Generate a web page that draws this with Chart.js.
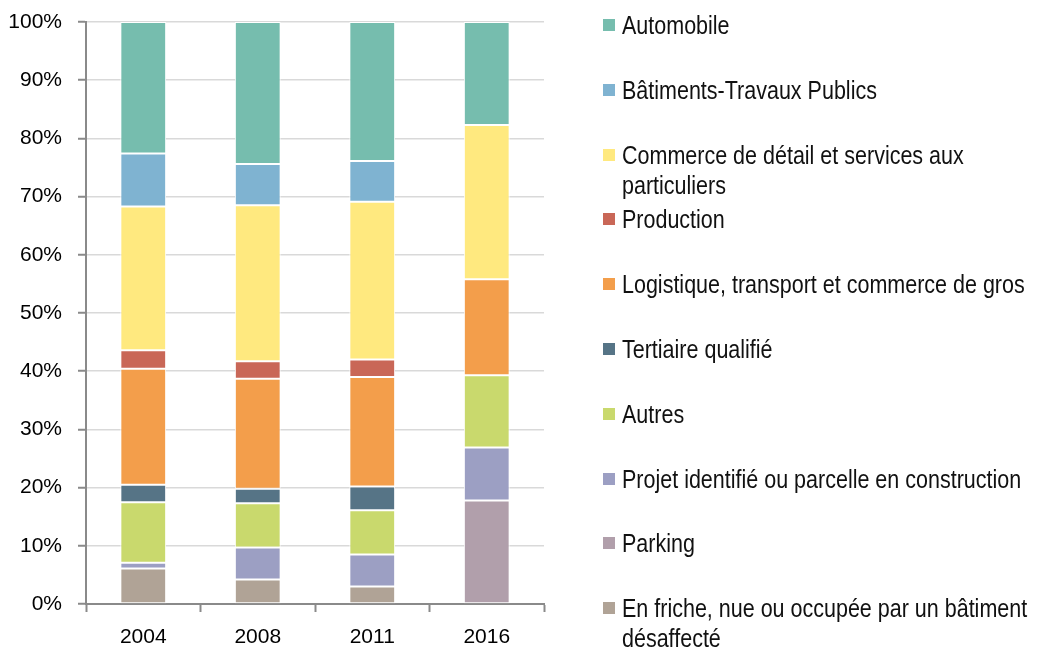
<!DOCTYPE html>
<html>
<head>
<meta charset="utf-8">
<script src="https://cdn.jsdelivr.net/npm/chart.js@4/dist/chart.umd.min.js"></script>
<style>
  html, body { margin: 0; padding: 0; background: #fff; }
  #wrap { position: relative; width: 1038px; height: 648px; }
  #c { position: absolute; left: 0; top: 0; }
  #legend { position: absolute; left: 0; top: 0; width: 1038px; height: 648px; pointer-events: none; }
  .item { position: absolute; left: 603px; width: 436px; }
  .sw { position: absolute; left: 0; top: 9px; width: 12px; height: 12px; }
  .tx { position: absolute; left: 19px; top: 0; width: 484px; line-height: 30px; color: #111;
        white-space: normal; font-family: "Liberation Sans", Arial, sans-serif; font-size: 25px;
        transform: scaleX(0.86); transform-origin: 0 0; }
</style>
</head>
<body>
<div id="wrap">
  <canvas id="c" width="1038" height="648"></canvas>
  <div id="legend"></div>
</div>
<script>
// ---- Data ----
const categories = ['2004', '2008', '2011', '2016'];

const seriesNames = [
  'En friche, nue ou occupée par un bâtiment désaffecté',
  'Parking',
  'Projet identifié ou parcelle en construction',
  'Autres',
  'Tertiaire qualifié',
  'Logistique, transport et commerce de gros',
  'Production',
  'Commerce de détail et services aux particuliers',
  'Bâtiments-Travaux Publics',
  'Automobile'
];

const enFriche   = [6.1, 4.2, 3.0, 0];
const parking    = [0, 0, 0, 17.8];
const projet     = [1.0, 5.5, 5.5, 9.1];
const autres     = [10.4, 7.6, 7.6, 12.4];
const tertiaire  = [3.0, 2.5, 4.1, 0];
const logistique = [19.9, 18.9, 18.8, 16.5];
const production = [3.2, 3.0, 3.0, 0];
const commerce   = [24.7, 26.8, 27.1, 26.5];
const btp        = [9.1, 7.1, 7.0, 0];
const automobile = [22.6, 24.4, 23.9, 17.7];

const yTicks = [0, 10, 20, 30, 40, 50, 60, 70, 80, 90, 100];

const seriesValues = [enFriche, parking, projet, autres, tertiaire, logistique, production, commerce, btp, automobile];
const seriesColors = ['#B0A396', '#B19FAB', '#9C9FC3', '#C9D96D', '#567486', '#F39E4B', '#C96757', '#FFE97F', '#7FB3D1', '#76BDAE'];

const fontFamily = '"Liberation Sans", Arial, sans-serif';
const fontSize = 21;

// ---- Chart ----
const datasets = seriesNames.map((name, i) => ({
  label: name,
  data: seriesValues[i],
  backgroundColor: seriesColors[i],
  borderColor: '#ffffff',
  borderWidth: 1,
  borderSkipped: false,
  barPercentage: 1,
  categoryPercentage: 0.4
}));

const axisColor = '#8a8a8a';

new Chart(document.getElementById('c'), {
  type: 'bar',
  data: { labels: categories, datasets: datasets },
  options: {
    responsive: false,
    animation: false,
    layout: { padding: { top: 22, right: 494, left: 0, bottom: 0 } },
    plugins: { legend: { display: false }, tooltip: { enabled: false } },
    scales: {
      x: {
        stacked: true,
        offset: true,
        grid: { display: true, offset: true, drawOnChartArea: false, drawTicks: true, tickLength: 8, tickColor: axisColor, tickWidth: 2 },
        border: { display: true, color: axisColor, width: 2 },
        ticks: { color: '#000', font: { family: fontFamily, size: fontSize }, padding: 13, maxRotation: 0 },
        afterFit: (s) => { s.height = 44; s.paddingLeft = 0; s.paddingRight = 0; }
      },
      y: {
        stacked: true,
        min: 0,
        max: 100,
        afterBuildTicks: (s) => { s.ticks = yTicks.map(v => ({ value: v })); },
        grid: { color: '#D9D9D9', lineWidth: 1.5, drawTicks: true, tickLength: 8, tickColor: axisColor, tickWidth: 2 },
        border: { display: true, color: axisColor, width: 2 },
        ticks: { color: '#000', font: { family: fontFamily, size: fontSize }, padding: 16, callback: (v) => v + '%' },
        afterFit: (s) => { s.width = 86; s.paddingTop = 0; s.paddingBottom = 0; }
      }
    }
  }
});

// ---- Legend (top to bottom = reverse stacking order) ----
const legend = document.getElementById('legend');
const order = seriesNames.map((_, i) => i).reverse();
order.forEach((idx, k) => {
  const item = document.createElement('div');
  item.className = 'item';
  item.style.top = (25 + k * 64.8 - 15) + 'px';
  const sw = document.createElement('div');
  sw.className = 'sw';
  sw.style.background = seriesColors[idx];
  const tx = document.createElement('div');
  tx.className = 'tx';
  tx.textContent = seriesNames[idx];
  item.appendChild(sw);
  item.appendChild(tx);
  legend.appendChild(item);
});
</script>
</body>
</html>
